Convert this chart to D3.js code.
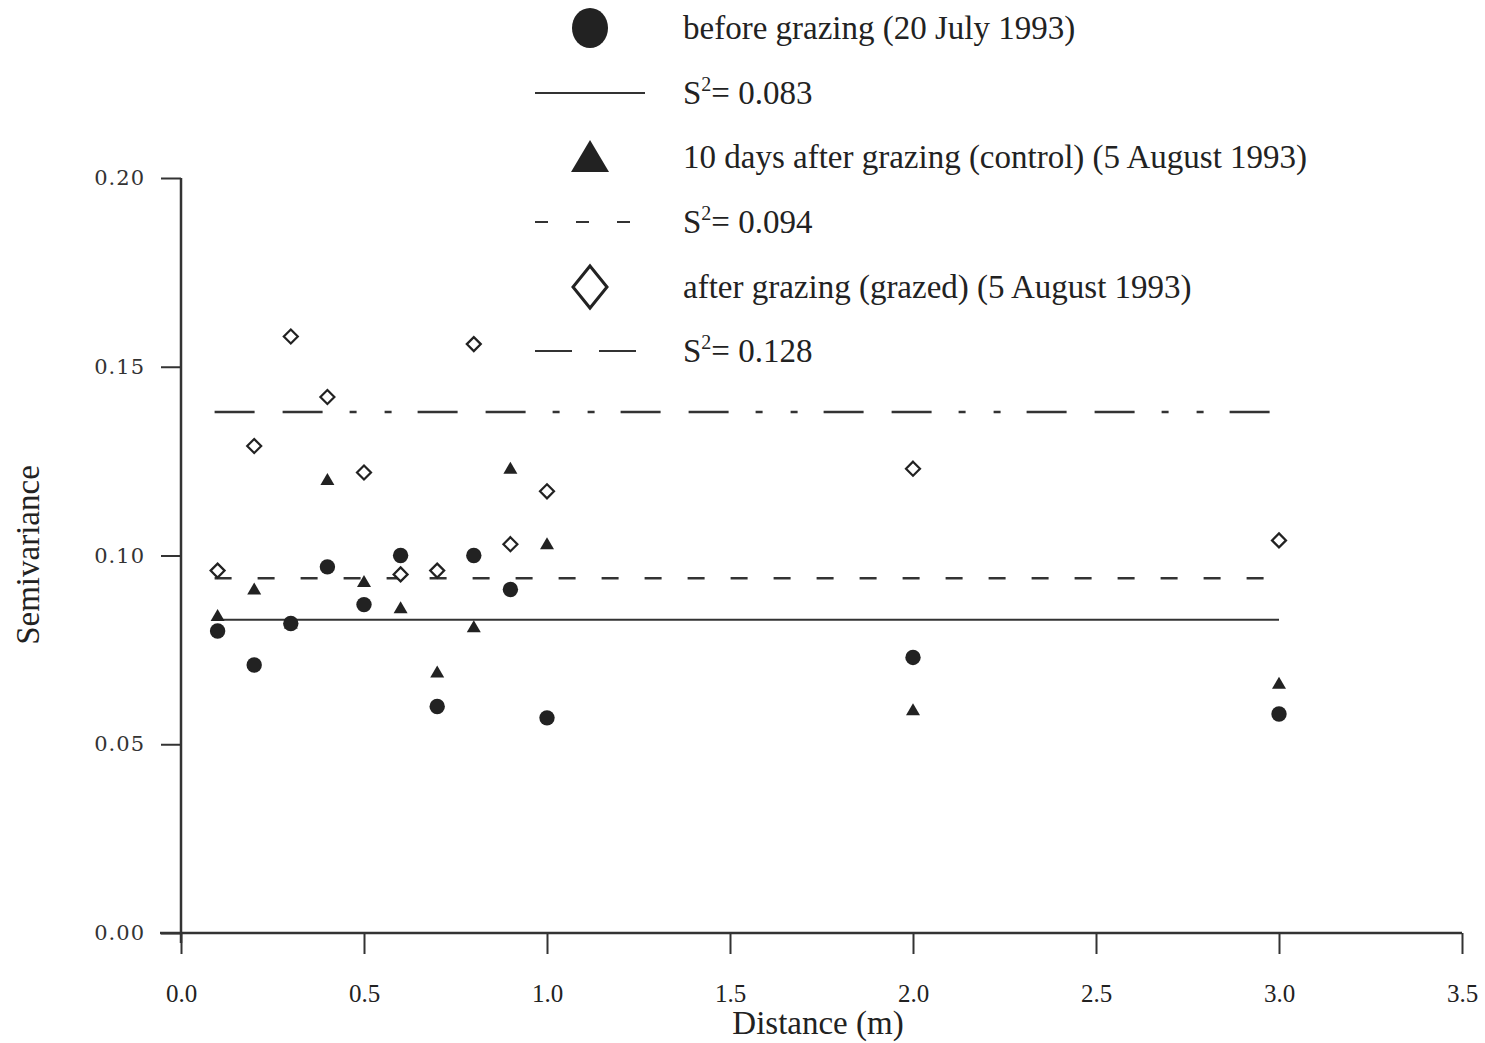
<!DOCTYPE html>
<html><head><meta charset="utf-8">
<script src="https://cdn.jsdelivr.net/npm/d3@7"></script>
<style>body{margin:0;background:#fff}svg{display:block}</style>
</head><body>
<svg id="c" width="1485" height="1043"></svg>
<script>
const distance = [0.1,0.2,0.3,0.4,0.5,0.6,0.7,0.8,0.9,1.0,2.0,3.0];
const beforeGrazing = [0.080,0.071,0.082,0.097,0.087,0.100,0.060,0.100,0.091,0.057,0.073,0.058];
const controlAfter  = [0.084,0.091,0.082,0.120,0.093,0.086,0.069,0.081,0.123,0.103,0.059,0.066];
const grazedAfter   = [0.096,0.129,0.158,0.142,0.122,0.095,0.096,0.156,0.103,0.117,0.123,0.104];
const sillLevels = [0.083, 0.094, 0.138];
const sillLabels = ["0.083", "0.094", "0.128"];
const seriesNames = ["before grazing (20 July 1993)", "10 days after grazing (control) (5 August 1993)", "after grazing (grazed) (5 August 1993)"];
const xTicks = [0,0.5,1.0,1.5,2.0,2.5,3.0,3.5];
const yTicks = [0,0.05,0.10,0.15,0.20];

const ink = "#222";
const svg = d3.select("#c");
const x = d3.scaleLinear().domain([0,3.5]).range([181,1462]);
const y = d3.scaleLinear().domain([0,0.2]).range([933,178]);
const serif = "'Liberation Serif','Times New Roman',serif";

// axes
const xa = svg.append("g").attr("transform","translate(0,933)")
  .call(d3.axisBottom(x).tickValues(xTicks).tickFormat(d3.format(".1f")).tickSize(21).tickSizeOuter(0).tickPadding(30));
const ya = svg.append("g").attr("transform","translate(181,0)")
  .call(d3.axisLeft(y).tickValues(yTicks).tickFormat(d3.format(".2f")).tickSize(20).tickSizeOuter(0).tickPadding(16));
[xa,ya].forEach(a=>{a.select(".domain").remove();a.selectAll(".tick line").attr("stroke","#333").attr("stroke-width",2);});
xa.selectAll("text").attr("font-family",serif).attr("font-size",25).attr("fill",ink);
ya.selectAll("text").attr("font-family","'DejaVu Serif',serif").attr("font-size",21).attr("fill","#333").attr("letter-spacing",1);
svg.append("line").attr("x1",x(0)-21).attr("x2",x(3.5)).attr("y1",y(0)).attr("y2",y(0)).attr("stroke","#333").attr("stroke-width",2.5);
svg.append("line").attr("x1",x(0)).attr("x2",x(0)).attr("y1",y(0.2)).attr("y2",y(0)+10).attr("stroke","#333").attr("stroke-width",2.5);

svg.append("text").attr("x",818).attr("y",1034).attr("text-anchor","middle").attr("font-family",serif).attr("font-size",33).attr("fill",ink).text("Distance (m)");
svg.append("text").attr("transform","translate(39,555) rotate(-90)").attr("text-anchor","middle").attr("font-family",serif).attr("font-size",33).attr("fill",ink).text("Semivariance");

// sill lines
const dashes = [null, "17,26", "40,28,40,27,7,28,7,26"];
const widths = [2, 2.5, 2.5];
sillLevels.forEach((v,i)=>{
  svg.append("line").attr("x1",x(0.1)-3).attr("x2",x(3.0)).attr("y1",y(v)).attr("y2",y(v))
    .attr("stroke","#333").attr("stroke-width",widths[i]).attr("stroke-dasharray",dashes[i]);
});

// markers
const pts = (arr)=>distance.map((d,i)=>({x:x(d),y:y(arr[i])}));
svg.append("g").selectAll("path").data(pts(grazedAfter)).join("path")
  .attr("d",p=>`M${p.x},${p.y-7}L${p.x+7},${p.y}L${p.x},${p.y+7}L${p.x-7},${p.y}Z`)
  .attr("fill","#fff").attr("stroke",ink).attr("stroke-width",2.2);
svg.append("g").selectAll("path").data(pts(controlAfter)).join("path")
  .attr("d",p=>`M${p.x},${p.y-7}L${p.x+7},${p.y+5}L${p.x-7},${p.y+5}Z`)
  .attr("fill",ink);
svg.append("g").selectAll("circle").data(pts(beforeGrazing)).join("circle")
  .attr("cx",p=>p.x).attr("cy",p=>p.y).attr("r",7.7).attr("fill",ink);

// legend
const rowY = [28,93,157,222,287,351];
const lg = svg.append("g");
const tx = 683;
function label(yc, txt){
  lg.append("text").attr("x",tx).attr("y",yc+11).attr("font-family",serif).attr("font-size",33).attr("fill",ink).text(txt);
}
function sLabel(yc, val){
  const t = lg.append("text").attr("x",tx).attr("y",yc+11).attr("font-family",serif).attr("font-size",33).attr("fill",ink);
  t.append("tspan").text("S");
  t.append("tspan").attr("font-size",20).attr("dy",-13).text("2");
  t.append("tspan").attr("dy",13).text("= " + val);
}
lg.append("ellipse").attr("cx",590).attr("cy",rowY[0]).attr("rx",18).attr("ry",20).attr("fill",ink);
label(rowY[0], seriesNames[0]);
lg.append("line").attr("x1",535).attr("x2",645).attr("y1",rowY[1]).attr("y2",rowY[1]).attr("stroke","#333").attr("stroke-width",2);
sLabel(rowY[1], sillLabels[0]);
lg.append("path").attr("d",`M590,${rowY[2]-17}L609,${rowY[2]+15}L571,${rowY[2]+15}Z`).attr("fill",ink);
label(rowY[2], seriesNames[1]);
lg.append("line").attr("x1",535).attr("x2",635).attr("y1",rowY[3]).attr("y2",rowY[3]).attr("stroke","#333").attr("stroke-width",2).attr("stroke-dasharray","13,28");
sLabel(rowY[3], sillLabels[1]);
lg.append("path").attr("d",`M590,${rowY[4]-21}L607,${rowY[4]}L590,${rowY[4]+21}L573,${rowY[4]}Z`).attr("fill","#fff").attr("stroke",ink).attr("stroke-width",3);
label(rowY[4], seriesNames[2]);
lg.append("line").attr("x1",535).attr("x2",638).attr("y1",rowY[5]).attr("y2",rowY[5]).attr("stroke","#333").attr("stroke-width",2).attr("stroke-dasharray","37,27");
sLabel(rowY[5], sillLabels[2]);
</script>
</body></html>
